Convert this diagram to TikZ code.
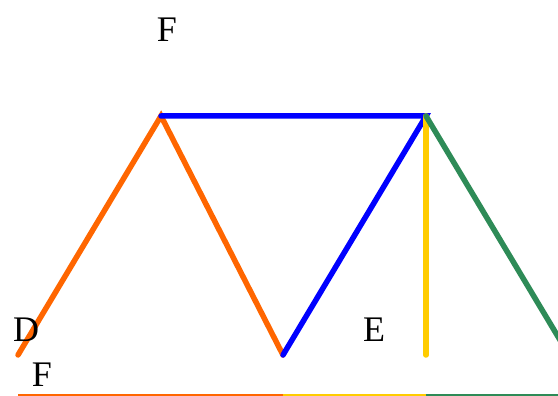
\documentclass[tikz,border=0pt]{standalone}
\usepackage{fontspec}
\setmainfont{Liberation Serif}
\definecolor{cOrange}{RGB}{255,102,0}
\definecolor{cBlue}{RGB}{0,0,255}
\definecolor{cYellow}{RGB}{255,204,0}
\definecolor{cGreen}{RGB}{46,139,87}
\begin{document}
\begin{tikzpicture}[x=1pt,y=-1pt,
  bar/.style={line width=5.5pt,line cap=round},
  base/.style={line width=2pt},
  lbl/.style={font=\fontsize{36}{38}\selectfont,inner sep=0pt}]
\useasboundingbox (0,0) rectangle (558,396);
\clip (0,0) rectangle (558,396);
\coordinate (A) at (18,355);
\coordinate (B) at (161,116);
\coordinate (C) at (283,355);
\coordinate (G) at (426,116);
\coordinate (H) at (426,355);
\coordinate (K) at (569,355);
\coordinate (b1) at (18,395);
\coordinate (b2) at (283,395);
\coordinate (b3) at (426,395);
\coordinate (b4) at (560,395);
\draw[base,cOrange] (b1) -- (b2);
\draw[base,cYellow] (b2) -- (b3);
\draw[base,cGreen] (b3) -- (b4);
\draw[bar,cOrange] (A) -- (B) -- (C);
\draw[bar,cBlue] (C) -- (G) -- (B);
\draw[bar,cYellow] (G) -- (H);
\draw[bar,cGreen] (G) -- (K);
\node[lbl] (f1) at (167,30) {F};
\node[lbl] (d) at (26,330) {D};
\node[lbl] (f2) at (42,375) {F};
\node[lbl] (e) at (374,330) {E};
\end{tikzpicture}
\end{document}
